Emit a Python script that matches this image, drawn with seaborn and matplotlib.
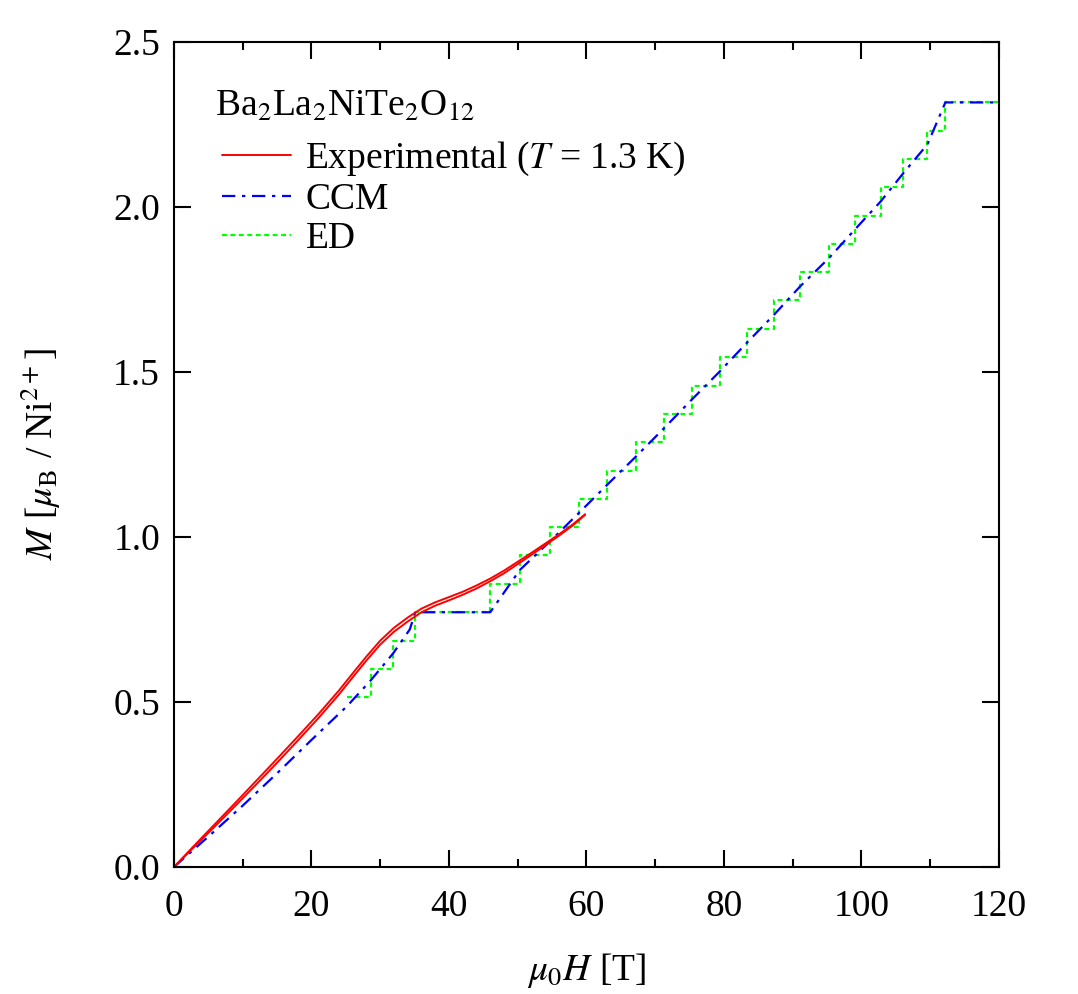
import pandas as pd
import seaborn as sns
import matplotlib.pyplot as plt
from matplotlib.lines import Line2D
from matplotlib.ticker import MultipleLocator

# experimental magnetization, two sweeps (field in T, M in muB / Ni)
H_exp = [0, 3, 6, 9, 12, 15, 18, 21, 24, 26, 28, 30, 32, 34, 36, 38, 40, 42, 44,
         46, 48, 50, 52, 54, 56, 58, 59.8]
M_exp_a = [0, 0.066, 0.131, 0.196, 0.262, 0.328, 0.395, 0.463, 0.535, 0.587, 0.638,
           0.686, 0.725, 0.756, 0.783, 0.802, 0.818, 0.834, 0.853, 0.874, 0.898,
           0.925, 0.952, 0.980, 1.008, 1.038, 1.069]
M_exp_b = [0, 0.062, 0.124, 0.187, 0.251, 0.316, 0.383, 0.451, 0.523, 0.575, 0.626,
           0.674, 0.713, 0.744, 0.772, 0.792, 0.808, 0.825, 0.844, 0.866, 0.890,
           0.918, 0.946, 0.975, 1.004, 1.035, 1.067]

# CCM calculation
H_ccm = [0, 5, 10, 15, 20, 25.2, 28.6, 31.9, 34.3, 35.1, 46.0, 50.3, 54.7, 58.9, 63.0,
         67.2, 71.3, 75.3, 79.4, 83.3, 87.3, 91.1, 95.3, 99.0, 102.8, 106.1, 109.6,
         112.2, 120]
M_ccm = [0, 0.092, 0.186, 0.284, 0.385, 0.488, 0.565, 0.648, 0.720, 0.772, 0.772,
         0.900, 0.987, 1.073, 1.158, 1.244, 1.330, 1.416, 1.502, 1.588, 1.674, 1.760,
         1.846, 1.931, 2.017, 2.103, 2.190, 2.317, 2.317]

# ED steps (field where each level starts, level value)
H_ed = [25.2, 28.6, 31.9, 35.1, 46.0, 50.3, 54.7, 58.9, 63.0, 67.2, 71.3, 75.3, 79.4,
        83.3, 87.3, 91.1, 95.3, 99.0, 102.8, 106.1, 109.6, 112.2, 120]
M_ed = [0.515, 0.600, 0.686, 0.772, 0.858, 0.944, 1.030, 1.116, 1.201, 1.287, 1.373,
        1.459, 1.545, 1.631, 1.717, 1.803, 1.888, 1.974, 2.060, 2.146, 2.231, 2.317,
        2.317]

sns.set_style('ticks')
plt.rcParams['font.family'] = ['Liberation Serif', 'DejaVu Serif']
plt.rcParams['mathtext.fontset'] = 'stix'
plt.rcParams['font.size'] = 27
for k in ['text.color', 'axes.labelcolor', 'xtick.color', 'ytick.color', 'axes.edgecolor']:
    plt.rcParams[k] = 'black'

fs = 27
ccm_ls = (0, (6, 3, 1.5, 3))
ed_ls = (0, (2.2, 1.6))

fig = plt.figure(figsize=(10.78, 9.94), dpi=100)
ax = fig.add_axes([0.1614, 0.1278, 0.7653, 0.8299])

sns.lineplot(x=H_ed, y=M_ed, ax=ax, color='#00ff00', lw=1.6, estimator=None, sort=False,
             drawstyle='steps-post', linestyle=ed_ls)
sns.lineplot(x=H_ccm, y=M_ccm, ax=ax, color='#0000ff', lw=1.6, estimator=None, sort=False,
             linestyle=ccm_ls)
sns.lineplot(x=H_exp, y=M_exp_a, ax=ax, color='#ff0000', lw=1.4, estimator=None, sort=False)
sns.lineplot(x=H_exp, y=M_exp_b, ax=ax, color='#ff0000', lw=1.4, estimator=None, sort=False)

ax.set_xlim(0, 120)
ax.set_ylim(0, 2.5)
ax.xaxis.set_major_locator(MultipleLocator(20))
ax.xaxis.set_minor_locator(MultipleLocator(10))
ax.yaxis.set_major_locator(MultipleLocator(0.5))
ax.yaxis.set_major_formatter(plt.FormatStrFormatter('%.1f'))
ax.tick_params(which='both', direction='in', top=True, right=True, width=1.5,
               labelsize=fs)
ax.tick_params(axis='x', pad=16)
ax.tick_params(axis='y', pad=10)
ax.tick_params(which='major', length=12)
ax.tick_params(which='minor', length=6)
for s in ax.spines.values():
    s.set_linewidth(1.5)

ax.set_xlabel(r'$\mu_0H$ [T]', fontsize=fs, labelpad=20)
ax.set_ylabel(r'$M$ [$\mu_{\rm B}$ / Ni$^{2+}$]', fontsize=fs, labelpad=36)

ax.text(0.05, 0.922, r'Ba$_2$La$_2$NiTe$_2$O$_{12}$', transform=ax.transAxes,
        fontsize=fs, ha='left', va='center')

handles = [Line2D([], [], color='#ff0000', lw=1.4),
           Line2D([], [], color='#0000ff', lw=1.6, linestyle=ccm_ls),
           Line2D([], [], color='#00ff00', lw=1.6, linestyle=ed_ls)]
leg = ax.legend(handles, [r'Experimental ($T$ = 1.3 K)', 'CCM', 'ED'],
                loc='upper left', bbox_to_anchor=(0.058, 0.881), frameon=False,
                fontsize=fs, handlelength=1.85, handletextpad=0.38,
                labelspacing=0.12, borderaxespad=0.0, borderpad=0.0)

fig.savefig('out.png', dpi=100)
